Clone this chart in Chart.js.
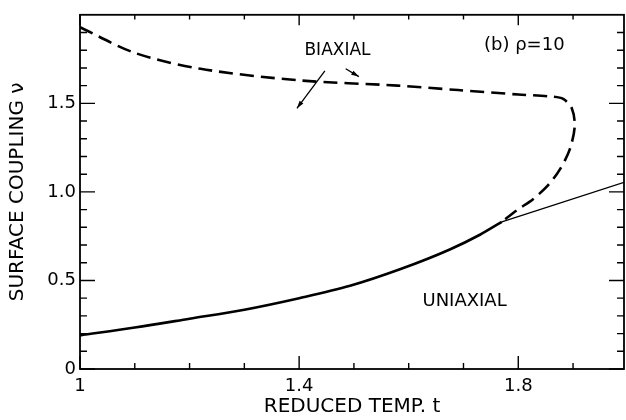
<!DOCTYPE html>
<html>
<head>
  <title>Surface coupling vs reduced temperature</title>
  <style>
    body { margin: 0; background: #fff; }
    .chart-box { width: 626px; height: 420px; }
  </style>
  <script src="https://cdn.jsdelivr.net/npm/chart.js"></script>
</head>
<body>
  <div class="chart-box"><canvas id="phaseChart"></canvas></div>
  <script>
    // uniaxial boundary, solid up to the kink
    const uniaxialT  = [1.0, 1.1, 1.2, 1.3, 1.4, 1.493, 1.584, 1.675, 1.73, 1.77];
    const uniaxialNu = [0.19, 0.234, 0.284, 0.335, 0.40, 0.47, 0.563, 0.675, 0.758, 0.831];

    // thin continuation past the kink
    const thinT  = [1.77, 1.993];
    const thinNu = [0.831, 1.054];

    // biaxial boundary (dashed, bends back at t ~ 1.9)
    const biaxialT  = [1.0, 1.1, 1.22, 1.4, 1.58, 1.69, 1.8, 1.858, 1.882, 1.898, 1.903, 1.894, 1.876, 1.855, 1.827, 1.798, 1.77];
    const biaxialNu = [1.93, 1.785, 1.695, 1.63, 1.60, 1.575, 1.55, 1.539, 1.525, 1.47, 1.37, 1.24, 1.127, 1.04, 0.959, 0.898, 0.831];

    // axis ticks
    const xMajorTicks = [1, 1.4, 1.8];
    const xTickLabels = ['1', '1.4', '1.8'];
    const xMinorTicks = [1.1, 1.2, 1.3, 1.5, 1.6, 1.7, 1.9];
    const yMajorTicks = [0, 0.5, 1.0, 1.5];
    const yTickLabels = ['0', '0.5', '1.0', '1.5'];
    const yMinorTicks = [0.1, 0.2, 0.3, 0.4, 0.6, 0.7, 0.8, 0.9, 1.1, 1.2, 1.3, 1.4, 1.6, 1.7, 1.8, 1.9];

    const FONT = '"DejaVu Sans", sans-serif';

    // text labels and arrows, in data coordinates
    const notes = [
      { text: 'BIAXIAL', t: 1.470, nu: 1.80, size: 17 },
      { text: '(b) \u03C1=10', t: 1.811, nu: 1.83, size: 18 },
      { text: 'UNIAXIAL', t: 1.702, nu: 0.383, size: 18 }
    ];
    const arrows = [
      { from: [1.447, 1.684], to: [1.396, 1.472] },
      { from: [1.485, 1.695], to: [1.509, 1.651] }
    ];

    const toPoints = (ts, nus) => ts.map((t, i) => ({ x: t, y: nus[i] }));

    const frameAndNotes = {
      id: 'frameAndNotes',
      beforeDraw(chart) {
        const ctx = chart.ctx;
        ctx.save();
        ctx.fillStyle = '#fff';
        ctx.fillRect(0, 0, chart.width, chart.height);
        ctx.restore();
      },
      afterDatasetsDraw(chart) {
        const { ctx, chartArea: a, scales: { x, y } } = chart;
        ctx.save();
        ctx.strokeStyle = '#000';
        ctx.fillStyle = '#000';

        // box
        ctx.lineWidth = 1.8;
        ctx.strokeRect(a.left, a.top, a.right - a.left, a.bottom - a.top);

        // inward ticks on all four sides
        ctx.lineWidth = 1.4;
        ctx.beginPath();
        const xt = xMajorTicks.map(v => [v, 13]).concat(xMinorTicks.map(v => [v, 6]));
        xt.forEach(([v, len]) => {
          const px = x.getPixelForValue(v);
          ctx.moveTo(px, a.bottom); ctx.lineTo(px, a.bottom - len);
          ctx.moveTo(px, a.top); ctx.lineTo(px, a.top + len * 0.8);
        });
        const yt = yMajorTicks.map(v => [v, 15]).concat(yMinorTicks.map(v => [v, 7]));
        yt.forEach(([v, len]) => {
          const py = y.getPixelForValue(v);
          ctx.moveTo(a.left, py); ctx.lineTo(a.left + len, py);
          ctx.moveTo(a.right, py); ctx.lineTo(a.right - len, py);
        });
        ctx.stroke();

        // arrows
        ctx.lineWidth = 1.3;
        arrows.forEach(ar => {
          const x0 = x.getPixelForValue(ar.from[0]), y0 = y.getPixelForValue(ar.from[1]);
          const x1 = x.getPixelForValue(ar.to[0]), y1 = y.getPixelForValue(ar.to[1]);
          const ang = Math.atan2(y1 - y0, x1 - x0);
          ctx.beginPath();
          ctx.moveTo(x0, y0); ctx.lineTo(x1, y1);
          ctx.stroke();
          ctx.beginPath();
          ctx.moveTo(x1, y1);
          ctx.lineTo(x1 - 8 * Math.cos(ang - 0.3), y1 - 8 * Math.sin(ang - 0.3));
          ctx.lineTo(x1 - 8 * Math.cos(ang + 0.3), y1 - 8 * Math.sin(ang + 0.3));
          ctx.closePath();
          ctx.fill();
        });

        // labels
        ctx.textAlign = 'center';
        ctx.textBaseline = 'middle';
        notes.forEach(n => {
          ctx.font = n.size + 'px ' + FONT;
          ctx.fillText(n.text, x.getPixelForValue(n.t), y.getPixelForValue(n.nu));
        });
        ctx.restore();
      }
    };

    new Chart(document.getElementById('phaseChart'), {
      type: 'scatter',
      data: {
        datasets: [
          {
            label: 'Uniaxial',
            data: toPoints(uniaxialT, uniaxialNu),
            showLine: true,
            borderColor: '#000',
            borderWidth: 2.6,
            pointRadius: 0,
            cubicInterpolationMode: 'monotone'
          },
          {
            label: 'Continuation',
            data: toPoints(thinT, thinNu),
            showLine: true,
            borderColor: '#000',
            borderWidth: 1.3,
            pointRadius: 0
          },
          {
            label: 'Biaxial',
            data: toPoints(biaxialT, biaxialNu),
            showLine: true,
            borderColor: '#000',
            borderWidth: 2.6,
            borderDash: [14, 7],
            pointRadius: 0,
            tension: 0.3
          }
        ]
      },
      options: {
        responsive: true,
        maintainAspectRatio: false,
        animation: false,
        layout: { padding: { top: 10, right: 2, left: 0, bottom: 0 } },
        plugins: {
          legend: { display: false },
          tooltip: { enabled: false }
        },
        scales: {
          x: {
            type: 'linear',
            min: 1,
            max: 1.993,
            grid: { display: false, drawTicks: false },
            border: { display: false },
            afterBuildTicks: scale => { scale.ticks = xMajorTicks.map(v => ({ value: v })); },
            afterFit: scale => { scale.height = 51; },
            ticks: {
              color: '#000',
              padding: 7,
              maxRotation: 0,
              font: { family: FONT, size: 18 },
              callback: (value, index) => xTickLabels[index]
            },
            title: {
              display: true,
              text: 'REDUCED TEMP. t',
              color: '#000',
              font: { family: FONT, size: 20 },
              padding: { top: 0, bottom: 1 }
            }
          },
          y: {
            type: 'linear',
            min: 0,
            max: 2.0,
            grid: { display: false, drawTicks: false },
            border: { display: false },
            afterBuildTicks: scale => { scale.ticks = yMajorTicks.map(v => ({ value: v })); },
            afterFit: scale => { scale.width = 80; },
            ticks: {
              color: '#000',
              padding: 4,
              font: { family: FONT, size: 18 },
              callback: (value, index) => yTickLabels[index]
            },
            title: {
              display: true,
              text: 'SURFACE COUPLING \u03BD',
              color: '#000',
              font: { family: FONT, size: 20 },
              padding: { top: 6, bottom: 0 }
            }
          }
        }
      },
      plugins: [frameAndNotes]
    });
  </script>
</body>
</html>
